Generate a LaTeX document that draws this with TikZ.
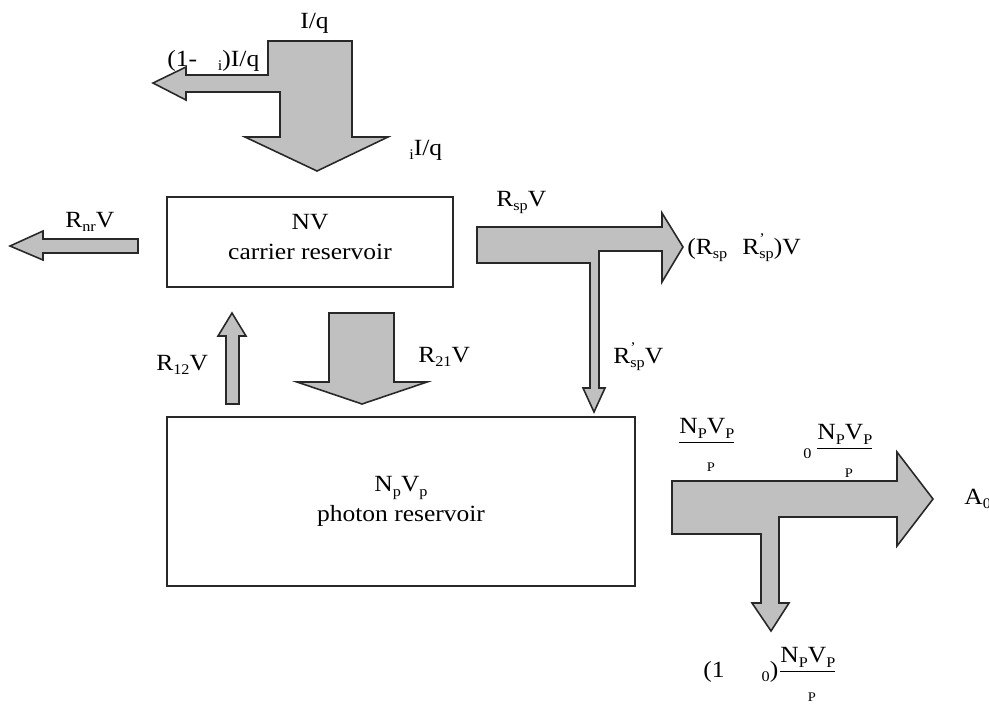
\documentclass[tikz,border=0pt]{standalone}
\usepackage{amsmath}
\usepackage{fontspec}
\setmainfont{Liberation Serif}[FakeStretch=1.1]
\usetikzlibrary{positioning}

\definecolor{flowgray}{RGB}{192,192,192}
\definecolor{edgegray}{RGB}{40,40,40}
\tikzset{
  flow/.style={fill=flowgray, draw=edgegray, line width=0.9pt, line join=miter},
  reservoir/.style={draw=edgegray, line width=0.9pt, inner sep=0pt},
  lbl/.style={anchor=base west, inner sep=0pt},
}
\newcommand{\sub}[1]{\raisebox{-2.8pt}{\fontsize{8.4}{9}\selectfont #1}}
\newcommand{\prm}{\rlap{\raisebox{6pt}{\fontsize{8.4}{9}\selectfont '}}}
\newcommand{\npvp}{N\sub{P}V\sub{P}}
\newcommand{\gapfrac}[1]{$\genfrac{}{}{0.6pt}{0}{\hbox{#1}}{\hbox{\hspace{0.35em}\raisebox{-5.5pt}{\fontsize{7.5}{8}\selectfont P}}}$}

\begin{document}
\begin{tikzpicture}[x=0.02cm, y=-0.02cm, font=\fontsize{13.2}{17}\selectfont]
  \useasboundingbox (0,0) rectangle (989,704);

  % Reservoirs
  \node (carrier) [reservoir, minimum width=5.72cm, minimum height=1.8cm] at (310,242) {};
  \node (carriertxt) [align=center] at (310,237) {NV\\carrier reservoir};
  \node (photon) [reservoir, minimum width=9.36cm, minimum height=3.38cm] at (401,501.5) {};
  \node (photontxt) [align=center] at (401,501) {N\sub{p}V\sub{p}\\photon reservoir};

  % Pump current
  \draw[flow] (268,41) -- (352,41) -- (352,137) -- (388,137) -- (317,171) -- (245,137)
    -- (280,137) -- (280,92) -- (186,92) -- (186,100) -- (153,83) -- (186,67) -- (186,75)
    -- (268,75) -- cycle;
  \node (iq) [lbl] at (300,28) {I/q};
  \node (leak) [lbl] at (167,66) {(1-\hspace{0.9em}\sub{i})I/q};
  \node (inj) [lbl] at (409,155) {\sub{i}I/q};

  % Carrier losses
  \draw[flow] (138,239) -- (43,239) -- (43,231) -- (10,246) -- (43,260) -- (43,253)
    -- (138,253) -- cycle;
  \node (rnr) [lbl] at (65,227) {R\sub{nr}V};

  \draw[flow] (477,227) -- (662,227) -- (662,213) -- (683,247) -- (662,282) -- (662,251)
    -- (599,251) -- (599,388) -- (605,388) -- (594,412) -- (583,388) -- (590,388)
    -- (590,263) -- (477,263) -- cycle;
  \node (rsp) [lbl] at (496,206) {R\sub{sp}V};
  \node (rspout) [lbl] at (687,254) {(R\sub{sp}\hspace{0.65em}R\prm\sub{sp})V};
  \node (rspp) [lbl] at (613,363) {R\prm\sub{sp}V};

  % Exchange between reservoirs
  \draw[flow] (226,404) -- (226,336) -- (218,336) -- (232,313) -- (246,336) -- (239,336)
    -- (239,404) -- cycle;
  \node (r12) [lbl] at (156,370) {R\sub{12}V};
  \draw[flow] (329,313) -- (394,313) -- (394,382) -- (427,382) -- (362,404) -- (297,382)
    -- (329,382) -- cycle;
  \node (r21) [lbl] at (418,362) {R\sub{21}V};

  % Photon output
  \draw[flow] (672,481) -- (897,481) -- (897,452) -- (933,499) -- (897,546) -- (897,517)
    -- (779,517) -- (779,603) -- (789,603) -- (771,631) -- (752,603) -- (761,603)
    -- (761,534) -- (672,534) -- cycle;
  \node (frac1) [lbl] at (677,447.6) {\gapfrac{\npvp}};
  \node (frac2) [lbl] at (803,453.6) {\sub{0}\,\gapfrac{\npvp}};
  \node (a0) [lbl] at (964,504) {A\sub{0}};
  \node (loss) [lbl] at (703,677) {(1\hspace{1.6em}\sub{0})\gapfrac{\npvp}};
\end{tikzpicture}
\end{document}
